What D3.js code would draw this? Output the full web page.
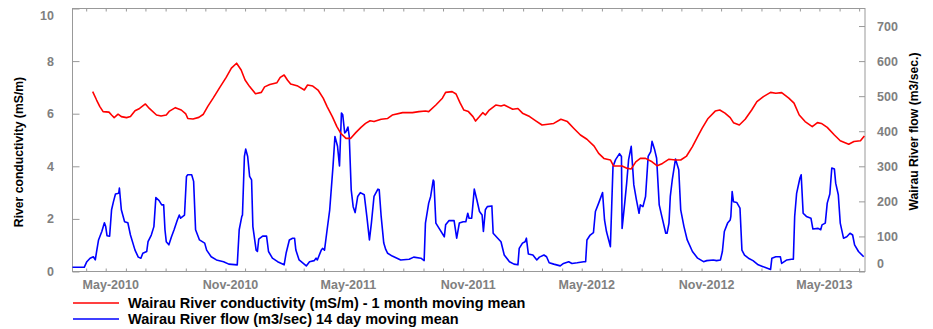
<!DOCTYPE html>
<html>
<head>
<meta charset="utf-8">
<script src="https://cdn.jsdelivr.net/npm/d3@7"></script>
<style>
  body { margin: 0; background: #fff; }
  svg { font-family: "Liberation Sans", Arial, sans-serif; }
  .axis path { display: none; }
  .axis line { stroke: #999; }
  .axis text { fill: #808080; font-weight: bold; font-size: 12.5px; }
</style>
</head>
<body>
<svg width="933" height="329"></svg>
<script>
// conductivity (mS/m), 1 month moving mean
const condData = [
  ["2010-04-11", 6.84], ["2010-04-17", 6.52], ["2010-04-22", 6.27], ["2010-04-27", 6.08],
  ["2010-05-06", 6.06], ["2010-05-10", 5.95], ["2010-05-14", 5.85], ["2010-05-20", 5.98],
  ["2010-05-25", 5.89], ["2010-06-02", 5.85], ["2010-06-08", 5.89], ["2010-06-15", 6.11],
  ["2010-06-22", 6.20], ["2010-07-01", 6.37], ["2010-07-07", 6.20], ["2010-07-18", 5.95],
  ["2010-07-25", 5.91], ["2010-08-02", 5.95], ["2010-08-07", 6.10], ["2010-08-16", 6.23],
  ["2010-08-25", 6.14], ["2010-09-01", 5.99], ["2010-09-04", 5.82], ["2010-09-12", 5.80],
  ["2010-09-21", 5.86], ["2010-09-28", 5.98], ["2010-10-05", 6.29], ["2010-10-13", 6.59],
  ["2010-10-23", 6.99], ["2010-11-02", 7.38], ["2010-11-10", 7.73], ["2010-11-18", 7.92],
  ["2010-11-25", 7.66], ["2010-12-01", 7.28], ["2010-12-08", 7.03], ["2010-12-17", 6.76],
  ["2010-12-26", 6.81], ["2010-12-31", 7.02], ["2011-01-08", 7.11], ["2011-01-19", 7.18],
  ["2011-01-24", 7.38], ["2011-01-30", 7.47], ["2011-02-04", 7.28], ["2011-02-09", 7.13],
  ["2011-02-20", 7.05], ["2011-03-02", 6.90], ["2011-03-07", 7.09], ["2011-03-15", 7.05],
  ["2011-03-23", 6.90], ["2011-03-31", 6.59], ["2011-04-06", 6.27], ["2011-04-14", 5.89],
  ["2011-04-21", 5.51], ["2011-04-27", 5.25], ["2011-05-05", 5.06], ["2011-05-12", 5.06],
  ["2011-05-20", 5.28], ["2011-05-28", 5.48], ["2011-06-04", 5.63], ["2011-06-11", 5.73],
  ["2011-06-17", 5.70], ["2011-06-28", 5.79], ["2011-07-08", 5.82], ["2011-07-15", 5.95],
  ["2011-07-31", 6.04], ["2011-08-15", 6.04], ["2011-08-25", 6.08], ["2011-09-04", 6.10],
  ["2011-09-09", 6.08], ["2011-09-20", 6.33], ["2011-09-30", 6.59], ["2011-10-05", 6.81],
  ["2011-10-15", 6.84], ["2011-10-21", 6.75], ["2011-10-27", 6.42], ["2011-11-02", 6.14],
  ["2011-11-09", 6.08], ["2011-11-16", 5.89], ["2011-11-20", 5.72], ["2011-11-26", 5.89],
  ["2011-12-01", 6.04], ["2011-12-05", 5.95], ["2011-12-11", 6.14], ["2011-12-21", 6.33],
  ["2011-12-29", 6.29], ["2012-01-03", 6.33], ["2012-01-16", 6.17], ["2012-01-24", 6.20],
  ["2012-01-31", 6.02], ["2012-02-11", 5.89], ["2012-02-21", 5.72], ["2012-03-01", 5.57],
  ["2012-03-19", 5.63], ["2012-03-30", 5.79], ["2012-04-09", 5.70], ["2012-04-19", 5.44],
  ["2012-04-29", 5.19], ["2012-05-09", 5.03], ["2012-05-20", 4.77], ["2012-05-27", 4.49],
  ["2012-06-04", 4.30], ["2012-06-14", 4.24], ["2012-06-19", 4.01], ["2012-07-02", 4.01],
  ["2012-07-10", 3.92], ["2012-07-16", 3.90], ["2012-07-23", 4.17], ["2012-07-30", 4.30],
  ["2012-08-07", 4.30], ["2012-08-17", 4.17], ["2012-08-25", 4.02], ["2012-09-02", 4.11],
  ["2012-09-12", 4.27], ["2012-09-22", 4.24], ["2012-09-30", 4.24], ["2012-10-09", 4.39],
  ["2012-10-18", 4.75], ["2012-10-26", 5.13], ["2012-11-02", 5.45], ["2012-11-11", 5.82],
  ["2012-11-22", 6.10], ["2012-11-29", 6.14], ["2012-12-07", 6.02], ["2012-12-15", 5.85],
  ["2012-12-20", 5.66], ["2012-12-29", 5.57], ["2013-01-07", 5.79], ["2013-01-17", 6.14],
  ["2013-01-25", 6.46], ["2013-02-04", 6.65], ["2013-02-15", 6.81], ["2013-02-23", 6.78],
  ["2013-03-04", 6.80], ["2013-03-15", 6.59], ["2013-03-23", 6.40], ["2013-03-31", 5.95],
  ["2013-04-09", 5.70], ["2013-04-20", 5.51], ["2013-04-28", 5.66], ["2013-05-04", 5.63],
  ["2013-05-13", 5.48], ["2013-05-24", 5.19], ["2013-06-02", 4.97], ["2013-06-15", 4.84],
  ["2013-06-23", 4.94], ["2013-07-03", 4.97], ["2013-07-09", 5.15]
]

// flow (m3/sec), 14 day moving mean
const flowData = [
  ["2010-03-11", 12], ["2010-03-29", 12], ["2010-04-02", 28], ["2010-04-07", 38],
  ["2010-04-12", 42], ["2010-04-15", 33], ["2010-04-17", 57], ["2010-04-20", 90],
  ["2010-04-25", 114], ["2010-04-29", 139], ["2010-05-01", 128], ["2010-05-03", 102],
  ["2010-05-07", 101], ["2010-05-10", 176], ["2010-05-13", 200], ["2010-05-16", 221],
  ["2010-05-21", 223], ["2010-05-22", 238], ["2010-05-25", 176], ["2010-05-30", 142],
  ["2010-06-04", 139], ["2010-06-08", 104], ["2010-06-15", 61], ["2010-06-20", 41],
  ["2010-06-24", 38], ["2010-06-27", 52], ["2010-07-03", 57], ["2010-07-05", 85],
  ["2010-07-10", 104], ["2010-07-14", 128], ["2010-07-17", 211], ["2010-07-22", 202],
  ["2010-07-26", 190], ["2010-07-29", 190], ["2010-07-31", 119], ["2010-08-02", 85],
  ["2010-08-06", 76], ["2010-08-10", 99], ["2010-08-14", 119], ["2010-08-19", 147],
  ["2010-08-22", 161], ["2010-08-24", 152], ["2010-08-30", 161], ["2010-09-02", 271],
  ["2010-09-04", 276], ["2010-09-10", 276], ["2010-09-13", 257], ["2010-09-16", 119],
  ["2010-09-22", 90], ["2010-09-30", 81], ["2010-10-03", 61], ["2010-10-10", 42],
  ["2010-10-18", 33], ["2010-10-29", 28], ["2010-11-06", 21], ["2010-11-19", 19],
  ["2010-11-22", 119], ["2010-11-26", 157], ["2010-11-27", 161], ["2010-11-30", 328],
  ["2010-12-02", 349], ["2010-12-05", 328], ["2010-12-08", 271], ["2010-12-11", 261],
  ["2010-12-13", 128], ["2010-12-18", 61], ["2010-12-20", 57], ["2010-12-22", 92],
  ["2010-12-28", 101], ["2011-01-03", 101], ["2011-01-06", 57], ["2011-01-12", 38],
  ["2011-01-20", 28], ["2011-01-30", 19], ["2011-02-02", 52], ["2011-02-07", 90],
  ["2011-02-12", 95], ["2011-02-15", 95], ["2011-02-17", 61], ["2011-02-22", 33],
  ["2011-03-05", 16], ["2011-03-10", 28], ["2011-03-17", 31], ["2011-03-20", 38],
  ["2011-03-22", 33], ["2011-03-28", 61], ["2011-03-30", 66], ["2011-04-02", 61],
  ["2011-04-06", 119], ["2011-04-10", 176], ["2011-04-15", 299], ["2011-04-18", 385],
  ["2011-04-22", 357], ["2011-04-25", 301], ["2011-04-28", 452], ["2011-04-30", 447],
  ["2011-05-03", 395], ["2011-05-05", 399], ["2011-05-08", 412], ["2011-05-10", 385],
  ["2011-05-13", 233], ["2011-05-16", 185], ["2011-05-19", 168], ["2011-05-23", 214],
  ["2011-05-27", 225], ["2011-06-02", 219], ["2011-06-06", 157], ["2011-06-10", 90],
  ["2011-06-13", 138], ["2011-06-17", 214], ["2011-06-23", 235], ["2011-06-25", 233],
  ["2011-06-28", 157], ["2011-07-02", 81], ["2011-07-05", 63], ["2011-07-08", 52],
  ["2011-07-15", 44], ["2011-07-28", 33], ["2011-08-10", 35], ["2011-08-17", 41],
  ["2011-08-28", 38], ["2011-09-02", 31], ["2011-09-04", 138], ["2011-09-09", 195],
  ["2011-09-12", 214], ["2011-09-16", 261], ["2011-09-17", 257], ["2011-09-20", 138],
  ["2011-09-25", 123], ["2011-10-03", 99], ["2011-10-05", 133], ["2011-10-10", 145],
  ["2011-10-18", 145], ["2011-10-22", 95], ["2011-10-26", 138], ["2011-11-01", 142],
  ["2011-11-05", 142], ["2011-11-08", 166], ["2011-11-10", 152], ["2011-11-14", 152],
  ["2011-11-18", 235], ["2011-11-22", 204], ["2011-11-26", 171], ["2011-11-30", 161],
  ["2011-12-02", 114], ["2011-12-05", 176], ["2011-12-08", 185], ["2011-12-15", 187],
  ["2011-12-17", 109], ["2011-12-24", 95], ["2011-12-29", 85], ["2012-01-03", 47],
  ["2012-01-11", 28], ["2012-01-18", 21], ["2012-01-24", 19], ["2012-01-26", 66],
  ["2012-01-31", 81], ["2012-02-04", 85], ["2012-02-06", 95], ["2012-02-09", 50],
  ["2012-02-16", 47], ["2012-02-22", 33], ["2012-02-26", 41], ["2012-03-04", 47],
  ["2012-03-08", 42], ["2012-03-12", 25], ["2012-03-19", 21], ["2012-03-29", 16],
  ["2012-04-03", 23], ["2012-04-11", 28], ["2012-04-16", 23], ["2012-04-24", 25],
  ["2012-05-04", 28], ["2012-05-07", 28], ["2012-05-09", 90], ["2012-05-14", 104],
  ["2012-05-19", 111], ["2012-05-22", 171], ["2012-05-27", 195], ["2012-06-02", 225],
  ["2012-06-05", 147], ["2012-06-08", 114], ["2012-06-14", 71], ["2012-06-16", 185],
  ["2012-06-18", 299], ["2012-06-22", 319], ["2012-06-28", 336], ["2012-07-01", 328],
  ["2012-07-02", 123], ["2012-07-06", 195], ["2012-07-09", 252], ["2012-07-12", 319],
  ["2012-07-16", 357], ["2012-07-20", 247], ["2012-07-24", 204], ["2012-07-28", 166],
  ["2012-07-30", 190], ["2012-08-03", 185], ["2012-08-07", 214], ["2012-08-11", 328],
  ["2012-08-15", 342], ["2012-08-17", 371], ["2012-08-21", 347], ["2012-08-24", 323],
  ["2012-08-28", 190], ["2012-09-01", 157], ["2012-09-07", 109], ["2012-09-09", 109],
  ["2012-09-12", 138], ["2012-09-14", 214], ["2012-09-17", 261], ["2012-09-22", 321],
  ["2012-09-27", 290], ["2012-09-30", 176], ["2012-10-05", 128], ["2012-10-10", 90],
  ["2012-10-18", 57], ["2012-10-26", 38], ["2012-11-04", 28], ["2012-11-09", 31],
  ["2012-11-19", 33], ["2012-11-24", 31], ["2012-11-30", 33], ["2012-12-03", 57],
  ["2012-12-06", 114], ["2012-12-11", 138], ["2012-12-15", 147], ["2012-12-16", 157],
  ["2012-12-18", 228], ["2012-12-20", 199], ["2012-12-25", 197], ["2012-12-30", 181],
  ["2013-01-02", 61], ["2013-01-06", 47], ["2013-01-12", 38], ["2013-01-19", 31],
  ["2013-01-27", 19], ["2013-02-06", 12], ["2013-02-15", 6], ["2013-02-17", 38],
  ["2013-02-23", 42], ["2013-03-02", 42], ["2013-03-04", 23], ["2013-03-12", 33],
  ["2013-03-19", 35], ["2013-03-22", 35], ["2013-03-24", 157], ["2013-03-27", 223],
  ["2013-04-01", 266], ["2013-04-03", 276], ["2013-04-06", 166], ["2013-04-11", 157],
  ["2013-04-18", 152], ["2013-04-21", 121], ["2013-04-29", 123], ["2013-05-03", 119],
  ["2013-05-05", 133], ["2013-05-10", 138], ["2013-05-13", 195], ["2013-05-17", 221],
  ["2013-05-20", 295], ["2013-05-24", 292], ["2013-05-26", 252], ["2013-05-30", 219],
  ["2013-06-02", 138], ["2013-06-07", 95], ["2013-06-12", 99], ["2013-06-17", 109],
  ["2013-06-21", 104], ["2013-06-24", 76], ["2013-06-30", 57], ["2013-07-08", 42]
]

const dateRange = ["2010-03-11", "2013-07-10"]
const condTicks = [0, 2, 4, 6, 8, 10]
const flowTicks = [0, 100, 200, 300, 400, 500, 600, 700]
const labelMonths = ["2010-05-01", "2010-11-01", "2011-05-01", "2011-11-01", "2012-05-01", "2012-11-01", "2013-05-01"]
const legendLabels = [
  "Wairau River conductivity (mS/m) - 1 month moving mean",
  "Wairau River flow (m3/sec) 14 day moving mean"
]
const colors = ["#ff0000", "#0000ff"]

const parse = d3.timeParse("%Y-%m-%d")
const svg = d3.select("svg")
const plot = {left: 72.5, right: 865, top: 8.5, bottom: 271.5}

const x = d3.scaleTime().domain(dateRange.map(parse)).range([plot.left, plot.right])
const yL = d3.scaleLinear().domain([0, 10]).range([plot.bottom, plot.top])
const yR = d3.scaleLinear().domain([0, 750]).range([plot.bottom, plot.top])

// frame
svg.append("rect")
  .attr("x", plot.left).attr("y", plot.top)
  .attr("width", plot.right - plot.left).attr("height", plot.bottom - plot.top)
  .attr("fill", "none").attr("stroke", "#999")

// monthly minor ticks, bottom and top
const months = d3.timeMonth.range(x.domain()[0], x.domain()[1])
svg.append("g").attr("class", "axis")
  .attr("transform", `translate(0,${plot.bottom})`)
  .call(d3.axisBottom(x).tickValues(months).tickSize(-3).tickFormat(""))
svg.append("g").attr("class", "axis")
  .attr("transform", `translate(0,${plot.top})`)
  .call(d3.axisTop(x).tickValues(months).tickSize(-3).tickFormat(""))

// 6-monthly labels
svg.append("g").attr("class", "axis")
  .attr("transform", `translate(0,${plot.bottom})`)
  .call(d3.axisBottom(x).tickValues(labelMonths.map(parse)).tickSize(0).tickPadding(9)
    .tickFormat(d3.timeFormat("%b-%Y")))
  .selectAll("text").attr("dx", 4.5)

// left axis
const gL = svg.append("g").attr("class", "axis")
  .attr("transform", `translate(${plot.left},0)`)
  .call(d3.axisLeft(yL).tickValues(condTicks).tickSize(-7).tickPadding(18.5))
gL.selectAll("text").filter(d => d === 10).attr("dy", "0.85em")

// right axis
const gR = svg.append("g").attr("class", "axis")
  .attr("transform", `translate(${plot.right},0)`)
  .call(d3.axisRight(yR).tickValues(flowTicks).tickSize(-6).tickPadding(12))
gR.selectAll("text").filter(d => d === 0).attr("dy", "-0.3em")

// axis titles
svg.append("text")
  .attr("transform", `translate(18.5,152) rotate(-90)`)
  .attr("text-anchor", "middle").attr("dominant-baseline", "central")
  .style("font-weight", "bold").style("font-size", "12.2px")
  .text("River conductivity (mS/m)")
svg.append("text")
  .attr("transform", `translate(914,131.5) rotate(-90)`)
  .attr("text-anchor", "middle").attr("dominant-baseline", "central")
  .style("font-weight", "bold").style("font-size", "12.2px")
  .text("Wairau River flow (m3/sec.)")

// lines
const condLine = d3.line().x(d => x(parse(d[0]))).y(d => yL(d[1]))
const flowLine = d3.line().x(d => x(parse(d[0]))).y(d => yR(d[1]))

svg.append("path").datum(flowData)
  .attr("d", flowLine).attr("fill", "none")
  .attr("stroke", colors[1]).attr("stroke-width", 1.6).attr("stroke-linejoin", "round")
svg.append("path").datum(condData)
  .attr("d", condLine).attr("fill", "none")
  .attr("stroke", colors[0]).attr("stroke-width", 1.6).attr("stroke-linejoin", "round")

// legend
const legend = svg.append("g")
legendLabels.forEach((label, i) => {
  const ly = 303 + i * 16
  legend.append("line")
    .attr("x1", 73).attr("x2", 119).attr("y1", ly).attr("y2", ly)
    .attr("stroke", colors[i]).attr("stroke-width", 1.3)
  legend.append("text")
    .attr("x", 128).attr("y", ly).attr("dominant-baseline", "central")
    .style("font-weight", "bold").style("font-size", "14.5px")
    .text(label)
})
</script>
</body>
</html>
